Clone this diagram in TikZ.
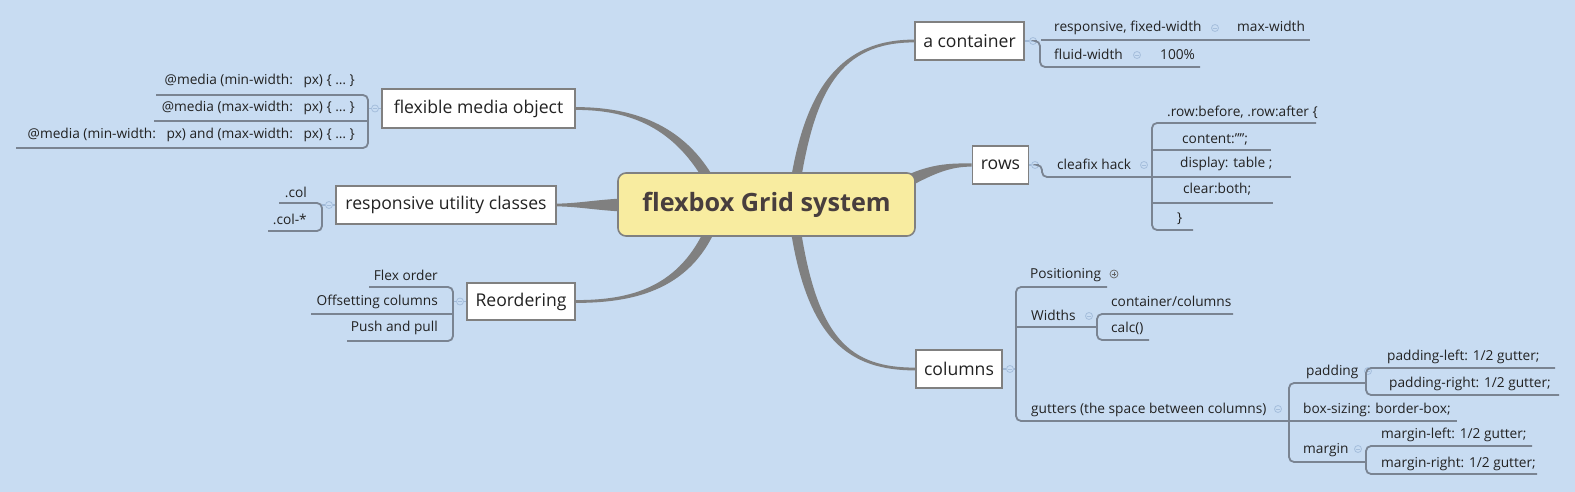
\documentclass[tikz,border=0pt]{standalone}
\usepackage{fontspec}
\setmainfont{Open Sans}
\usetikzlibrary{calc}
\definecolor{bg}{RGB}{200,220,242}
\definecolor{boxline}{RGB}{128,128,128}
\definecolor{branchc}{RGB}{128,128,128}
\definecolor{ulc}{RGB}{122,132,146}
\definecolor{collc}{RGB}{165,190,220}
\definecolor{connc}{RGB}{160,185,215}
\definecolor{txt}{RGB}{34,34,34}
\definecolor{ctxt}{RGB}{72,62,62}
\definecolor{cfill}{RGB}{248,236,160}
\newcommand{\taperbranch}[6]{%
  \coordinate (tp0) at #1; \coordinate (tp1) at #2; \coordinate (tp2) at #3; \coordinate (tp3) at #4;
  \coordinate (tl0) at ($(tp0)!#5!90:(tp1)$);
  \coordinate (tr0) at ($(tp0)!#5!-90:(tp1)$);
  \coordinate (tl3) at ($(tp3)!#6!-90:(tp2)$);
  \coordinate (tr3) at ($(tp3)!#6!90:(tp2)$);
  \fill[branchc] (tl0) .. controls ($(tp1)+(tl0)-(tp0)$) and ($(tp2)+(tl3)-(tp3)$) .. (tl3)
     -- (tr3) .. controls ($(tp2)+(tr3)-(tp3)$) and ($(tp1)+(tr0)-(tp0)$) .. (tr0) -- cycle;}
\begin{document}
\begin{tikzpicture}[x=1pt,y=-1pt,
  box/.style={draw=boxline, line width=1.6pt, fill=white, font=\fontsize{17.6}{20}\selectfont, text=txt, inner sep=0pt},
  central/.style={draw=boxline, line width=1.6pt, fill=cfill, rounded corners=8pt, font=\fontsize{25.2}{28}\selectfont\bfseries, text=ctxt, inner sep=0pt},
  lbl/.style={font=\fontsize{13.7}{16}\selectfont, text=txt, inner sep=0pt},
  lw/.style={lbl, anchor=base west},
  le/.style={lbl, anchor=base east},
  uline/.style={draw=ulc, line width=1.8pt, rounded corners=5pt},
  conn/.style={draw=connc, line width=1.2pt},
  collapse/.style={circle, draw=collc, line width=0.8pt, minimum size=7pt, inner sep=0pt,
    path picture={\draw[collc, line width=0.8pt] ([xshift=-2pt]path picture bounding box.center) -- ([xshift=2pt]path picture bounding box.center);}},
  expand/.style={circle, draw=black!60, line width=0.7pt, minimum size=8pt, inner sep=0pt,
    path picture={\draw[black!60, line width=0.7pt] ([xshift=-2.3pt]path picture bounding box.center) -- ([xshift=2.3pt]path picture bounding box.center) ([yshift=-2.3pt]path picture bounding box.center) -- ([yshift=2.3pt]path picture bounding box.center);}}
]
\fill[bg] (0,0) rectangle (1575,492);
\useasboundingbox (0,0) rectangle (1575,492);

% main topic boxes
\node[box, minimum width=193pt, minimum height=39pt] (fmo) at (478.5,108.5) {flexible media object};
\node[box, minimum width=220pt, minimum height=38pt] (ruc) at (446,205) {responsive utility classes};
\node[box, minimum width=108pt, minimum height=37pt] (reo) at (521,301.5) {Reordering};
\node[box, minimum width=109pt, minimum height=38pt] (con) at (969.5,41) {a container};
\node[box, minimum width=56pt, minimum height=38pt] (rows) at (1000.5,165) {rows};
\node[box, minimum width=86pt, minimum height=38pt] (cols) at (959,369) {columns};

% tapered branches
\taperbranch{(795,185)}{(810,90)}{(840,41)}{(con.west)}{5pt}{1.4pt}
\taperbranch{(895,188)}{(930,168)}{(950,165)}{(rows.west)}{6pt}{1.6pt}
\taperbranch{(795,225)}{(812,340)}{(850,369)}{(cols.west)}{5pt}{1.4pt}
\taperbranch{(712,185)}{(680,125)}{(630,108.5)}{(fmo.east)}{5pt}{1.4pt}
\taperbranch{(640,205)}{(605,205)}{(580,205)}{(ruc.east)}{7pt}{1.4pt}
\taperbranch{(712,225)}{(685,290)}{(630,301.5)}{(reo.east)}{5pt}{1.4pt}

% central topic
\node[central, minimum width=297pt, minimum height=63pt] (root) at (766.5,204.5) {flexbox Grid system};

% ---------- flexible media object ----------
\node[collapse] (cf) at (375,108.5) {};
\coordinate (bf) at (368,108.5);
\draw[conn] (fmo.west) -- (cf.east);
\draw[conn] (cf.west) -- (bf);
\draw[uline] (156,95) -- (368,95) -- (368,148) -- (16,148);
\draw[uline] (154,121) -- (368,121);
\node[le] (f1) at (355,84.5) {@media (min-width:\ \ \ px) \{ … \}};
\node[le] (f2) at (355,111.5) {@media (max-width:\ \ \ px) \{ … \}};
\node[le] (f3) at (355,138.5) {@media (min-width:\ \ \ px) and (max-width:\ \ \ px) \{ … \}};

% ---------- responsive utility classes ----------
\node[collapse] (cr) at (329,205) {};
\coordinate (br) at (322,205);
\draw[conn] (ruc.west) -- (cr.east);
\draw[conn] (cr.west) -- (br);
\draw[uline] (279,203) -- (322,203) -- (322,231) -- (268,231);
\node[le] (r1) at (307,197.5) {.col};
\node[le] (r2) at (307,224.5) {.col-*};

% ---------- Reordering ----------
\node[collapse] (co) at (460,301.5) {};
\coordinate (bo) at (453,301.5);
\draw[conn] (reo.west) -- (co.east);
\draw[conn] (co.west) -- (bo);
\draw[uline] (369,287) -- (453,287) -- (453,341) -- (347,341);
\draw[uline] (311,314) -- (453,314);
\node[le] (o1) at (438,280.5) {Flex order};
\node[le] (o2) at (438,305.5) {Offsetting columns};
\node[le] (o3) at (438,331.5) {Push and pull};

% ---------- a container ----------
\node[collapse] (cc) at (1033,41) {};
\draw[conn] (con.east) -- (cc.west);
\draw[uline] (cc.east) -- (1040,41) -- (1040,67) -- (1200,67);
\draw[uline] (1041,40) -- (1310,40);
\node[lw] (a1) at (1054,31.5) {responsive, fixed-width};
\node[collapse] (ca1) at (1215,28) {};
\node[lw] (a2) at (1237,31.5) {max-width};
\node[lw] (a3) at (1054,59.5) {fluid-width};
\node[collapse] (ca3) at (1137,55) {};
\node[lw] (a4) at (1160,59.5) {100\%};

% ---------- rows ----------
\node[collapse] (cw) at (1035,165) {};
\draw[conn] (rows.east) -- (cw.west);
\draw[uline] (cw.east) -- (1042,165) -- (1042,177) -- (1152,177);
\node[lw] (w0) at (1057,169.5) {cleafix hack};
\node[collapse] (cw1) at (1144,165) {};
\draw[uline] (1316,123) -- (1152,123) -- (1152,230) -- (1193,230);
\draw[uline] (1152,150) -- (1271,150);
\draw[uline] (1152,177) -- (1291,177);
\draw[uline] (1152,203) -- (1273,203);
\node[lw] (w1) at (1167,116.5) {.row:before, .row:after \{};
\node[lw] (w2) at (1182,143.5) {content:\symbol{34}\symbol{34};};
\node[lw] (w3) at (1180,167.5) {display: table ;};
\node[lw] (w4) at (1183,193.5) {clear:both;};
\node[lw] (w5) at (1177,222.5) {\}};

% ---------- columns ----------
\node[collapse] (ck) at (1010,369) {};
\draw[conn] (cols.east) -- (ck.west);
\draw[conn] (ck.east) -- (1016,369);
\draw[uline] (1107,287) -- (1016,287) -- (1016,421) -- (1289,421);
\draw[uline] (1016,327) -- (1097,327);
\node[lw] (k1) at (1030,278.5) {Positioning};
\node[expand] (ek1) at (1114,274) {};
\node[lw] (k2) at (1031,320.5) {Widths};
\node[collapse] (ck2) at (1089,316) {};
\draw[uline] (1233,314) -- (1097,314) -- (1097,340) -- (1149,340);
\node[lw] (k21) at (1111,306.5) {container/columns};
\node[lw] (k22) at (1111,332.5) {calc()};
\node[lw] (k3) at (1031,413.5) {gutters (the space between columns)};
\node[collapse] (ck3) at (1278,409) {};
\draw[uline] (1366,383) -- (1289,383) -- (1289,462) -- (1366,462);
\draw[uline] (1289,421) -- (1457,421);
\node[lw] (k31) at (1306,375.5) {padding};
\node[collapse] (ck31) at (1368,371) {};
\draw[uline] (1555,368) -- (1366,368) -- (1366,395) -- (1559,395);
\node[lw] (k311) at (1387,360.5) {padding-left: 1/2 gutter;};
\node[lw] (k312) at (1389,387.5) {padding-right: 1/2 gutter;};
\node[lw] (k32) at (1303,413.5) {box-sizing: border-box;};
\node[lw] (k33) at (1303,453.5) {margin};
\node[collapse] (ck33) at (1358,449) {};
\draw[uline] (1532,446) -- (1366,446) -- (1366,474) -- (1537,474);
\node[lw] (k331) at (1381,438.5) {margin-left: 1/2 gutter;};
\node[lw] (k332) at (1381,467.5) {margin-right: 1/2 gutter;};
\end{tikzpicture}
\end{document}
